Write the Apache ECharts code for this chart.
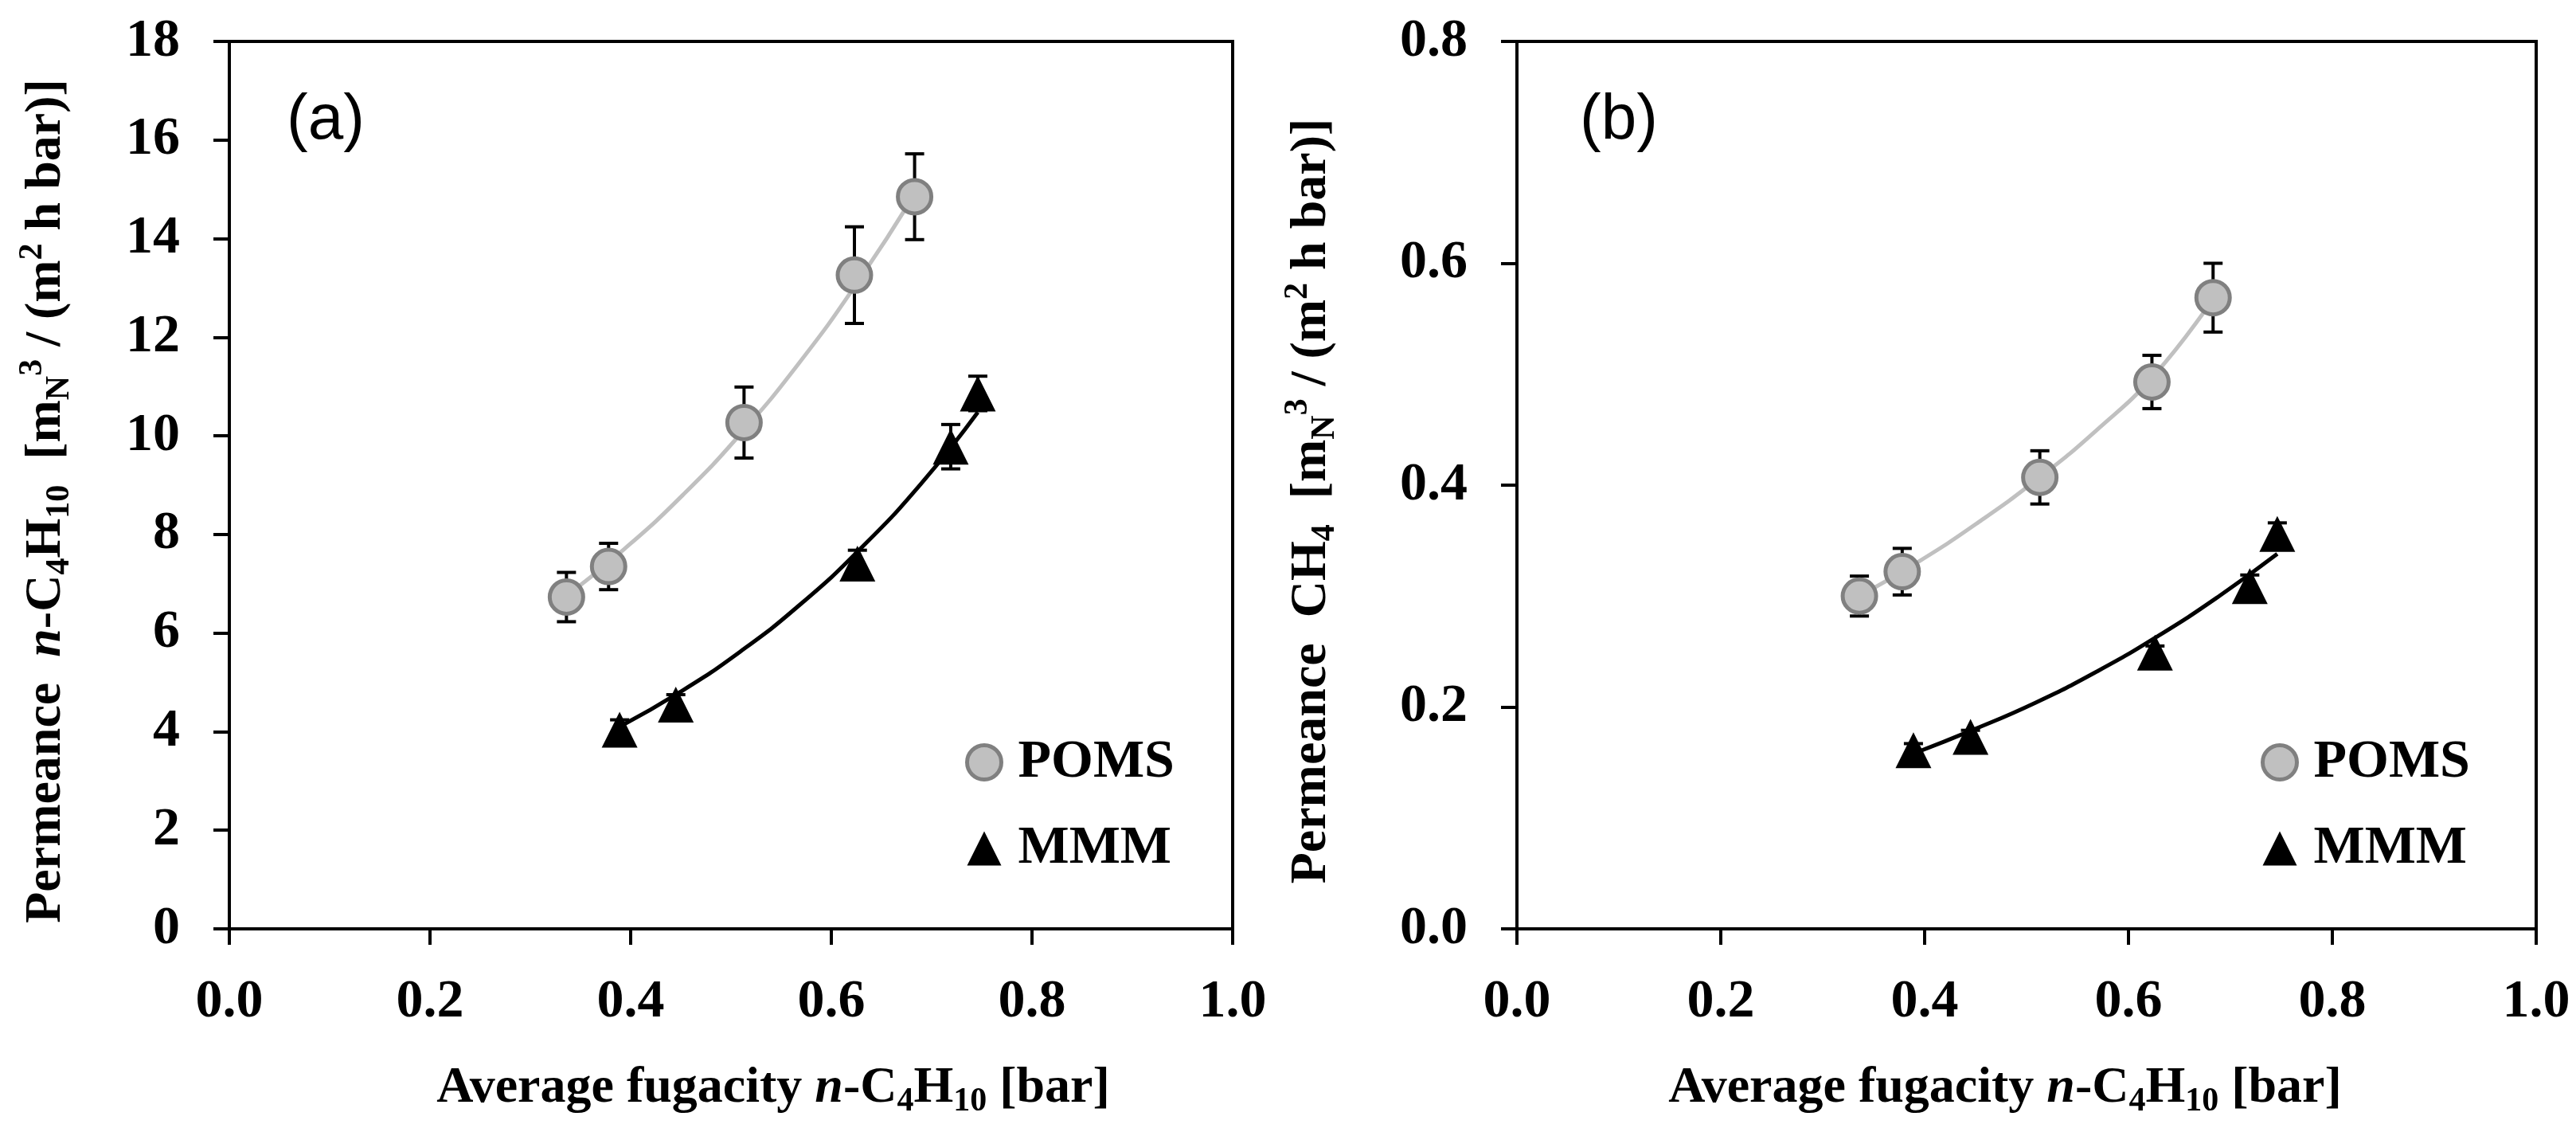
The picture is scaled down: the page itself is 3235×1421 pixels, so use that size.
<!DOCTYPE html>
<html>
<head>
<meta charset="utf-8">
<script src="https://cdn.jsdelivr.net/npm/echarts@6/dist/echarts.min.js"></script>
<style>
html, body { margin: 0; padding: 0; background: #fff; }
#main { width: 3235px; height: 1421px; }
</style>
</head>
<body>
<div id="main"></div>
<script>
// average fugacity of n-C4H10 [bar]
var fugPOMS = [0.336, 0.378, 0.513, 0.623, 0.683];
var fugMMM = [0.389, 0.445, 0.626, 0.719, 0.746];

// (a) n-C4H10 permeance
var butPOMS = [6.73, 7.35, 10.27, 13.26, 14.85];
var butPOMSErr = [0.5, 0.47, 0.72, 0.98, 0.87];
var butMMM = [4.04, 4.55, 7.41, 9.78, 10.86];
var butMMMErr = [0.2, 0.2, 0.27, 0.45, 0.35];

// (b) CH4 permeance
var ch4POMS = [0.300, 0.322, 0.407, 0.493, 0.569];
var ch4POMSErr = [0.018, 0.021, 0.024, 0.024, 0.031];
var ch4MMM = [0.161, 0.173, 0.249, 0.309, 0.356];
var ch4MMMErr = [0.006, 0.006, 0.006, 0.01, 0.01];

// trend curves
var trendPOMSx = [0.336, 0.394, 0.452, 0.51, 0.568, 0.626, 0.683];
var trendMMMx = [0.389, 0.449, 0.509, 0.569, 0.629, 0.689, 0.746];
var trendButPOMS = [6.75, 7.71, 8.8, 10.05, 11.48, 13.11, 14.9];
var trendButMMM = [4.1, 4.8, 5.62, 6.58, 7.71, 9.02, 10.48];
var trendCh4POMS = [0.300, 0.331, 0.366, 0.405, 0.449, 0.5, 0.568];
var trendCh4MMM = [0.158, 0.18, 0.204, 0.232, 0.264, 0.3, 0.338];

var xTicks = [0, 1, 0.2];
var yTicksA = [0, 18, 2];
var yTicksB = [0, 0.8, 0.2];

var serif = "'Liberation Serif', 'Times New Roman', serif";

function pairs(xs, ys) {
    return xs.map(function (x, i) { return [x, ys[i]]; });
}

var rich = {
    b: { fontFamily: serif, fontWeight: 'bold', fontSize: 64, lineHeight: 76, color: '#000' },
    bi: { fontFamily: serif, fontWeight: 'bold', fontStyle: 'italic', fontSize: 64, lineHeight: 76, color: '#000' },
    sub: { fontFamily: serif, fontWeight: 'bold', fontSize: 42, lineHeight: 42, verticalAlign: 'bottom', color: '#000' },
    sup: { fontFamily: serif, fontWeight: 'bold', fontSize: 42, lineHeight: 42, verticalAlign: 'top', color: '#000' }
};

var xName = '{b|Average fugacity }{bi|n}{b|-C}{sub|4}{b|H}{sub|10}{b| [bar]}';
var unit = '{b|  [m}{sub|N}{sup|3}{b| / (m}{sup|2}{b| h bar)]}';
var yNameA = '{b|Permeance  }{bi|n}{b|-C}{sub|4}{b|H}{sub|10}' + unit;
var yNameB = '{b|Permeance  CH}{sub|4}' + unit;

function xAx(gi, pad) {
    return {
        type: 'value', gridIndex: gi,
        min: xTicks[0], max: xTicks[1], interval: xTicks[2],
        axisLine: { show: true, onZero: false, lineStyle: { color: '#000', width: 4 } },
        axisTick: { show: true, length: 20, lineStyle: { color: '#000', width: 4 } },
        axisLabel: {
            formatter: function (v) { return v.toFixed(1); },
            fontFamily: serif, fontWeight: 'bold', fontSize: 68, color: '#000', margin: 58
        },
        splitLine: { show: false },
        name: xName, nameLocation: 'middle', nameGap: 162,
        nameTextStyle: { rich: rich, padding: pad }
    };
}

function yAx(gi, t, dec, name, gap) {
    return {
        type: 'value', gridIndex: gi,
        min: t[0], max: t[1], interval: t[2],
        axisLine: { show: true, onZero: false, lineStyle: { color: '#000', width: 4 } },
        axisTick: { show: true, length: 20, lineStyle: { color: '#000', width: 4 } },
        axisLabel: {
            formatter: function (v) { return v.toFixed(dec); },
            fontFamily: serif, fontWeight: 'bold', fontSize: 68, color: '#000', margin: 62
        },
        splitLine: { show: false },
        name: name, nameLocation: 'middle', nameRotate: 90, nameGap: gap,
        nameTextStyle: { rich: rich, padding: [0, 40, 0, 0] }
    };
}

function errSeries(name, xs, ys, es, gi) {
    return {
        type: 'custom', name: name, coordinateSystem: 'cartesian2d',
        xAxisIndex: gi, yAxisIndex: gi, z: 3, silent: true,
        data: xs.map(function (x, i) { return [x, ys[i], es[i]]; }),
        renderItem: function (params, api) {
            var x = api.value(0), y = api.value(1), e = api.value(2);
            var hi = api.coord([x, y + e]);
            var lo = api.coord([x, y - e]);
            var w = 12;
            var st = { stroke: '#000', lineWidth: 4 };
            return {
                type: 'group',
                children: [
                    { type: 'line', shape: { x1: hi[0], y1: hi[1], x2: lo[0], y2: lo[1] }, style: st },
                    { type: 'line', shape: { x1: hi[0] - w, y1: hi[1], x2: hi[0] + w, y2: hi[1] }, style: st },
                    { type: 'line', shape: { x1: lo[0] - w, y1: lo[1], x2: lo[0] + w, y2: lo[1] }, style: st }
                ]
            };
        }
    };
}

function trend(name, xs, ys, gi, color) {
    return {
        type: 'line', name: name, xAxisIndex: gi, yAxisIndex: gi, z: 2,
        data: pairs(xs, ys), smooth: true, showSymbol: false, silent: true,
        lineStyle: { color: color, width: 5 }
    };
}

function poms(xs, ys, gi) {
    return {
        type: 'scatter', name: 'POMS', xAxisIndex: gi, yAxisIndex: gi, z: 5,
        data: pairs(xs, ys), symbol: 'circle', symbolSize: 42,
        itemStyle: { color: '#c0c0c0', borderColor: '#808080', borderWidth: 5, opacity: 1 }
    };
}

function mmm(xs, ys, gi) {
    return {
        type: 'scatter', name: 'MMM', xAxisIndex: gi, yAxisIndex: gi, z: 5,
        data: pairs(xs, ys), symbol: 'triangle', symbolSize: 45,
        itemStyle: { color: '#000', opacity: 1 }
    };
}

function legendAt(left) {
    return {
        orient: 'vertical', left: left, top: 918,
        itemWidth: 43, itemHeight: 43, itemGap: 40,
        selectedMode: false,
        data: [
            { name: 'POMS', itemStyle: { borderWidth: 5, borderColor: '#808080' } },
            { name: 'MMM' }
        ],
        textStyle: { fontFamily: serif, fontWeight: 'bold', fontSize: 68, color: '#000', padding: [0, 0, 0, 16] }
    };
}

var myChart = echarts.init(document.getElementById('main'));

var option = {
    backgroundColor: '#fff',
    animation: false,
    grid: [
        { left: 288, top: 52, width: 1260, height: 1114, show: true, borderColor: '#000', borderWidth: 4,
          containLabel: false, outerBoundsMode: 'none' },
        { left: 1905, top: 52, width: 1280, height: 1114, show: true, borderColor: '#000', borderWidth: 4,
          containLabel: false, outerBoundsMode: 'none' }
    ],
    xAxis: [xAx(0, [0, 0, 0, 106]), xAx(1, [0, 54, 0, 0])],
    yAxis: [yAx(0, yTicksA, 0, yNameA, 192), yAx(1, yTicksB, 1, yNameB, 220)],
    legend: [legendAt(1207), legendAt(2834)],
    graphic: [
        { type: 'text', x: 360, y: 152, style: { text: '(a)', font: '80px "Liberation Sans", Arial, sans-serif', fill: '#000', textAlign: 'left', textVerticalAlign: 'middle' } },
        { type: 'text', x: 1984, y: 152, style: { text: '(b)', font: '80px "Liberation Sans", Arial, sans-serif', fill: '#000', textAlign: 'left', textVerticalAlign: 'middle' } }
    ],
    series: [
        trend('POMS fit a', trendPOMSx, trendButPOMS, 0, '#c0c0c0'),
        trend('MMM fit a', trendMMMx, trendButMMM, 0, '#000'),
        errSeries('POMS err a', fugPOMS, butPOMS, butPOMSErr, 0),
        errSeries('MMM err a', fugMMM, butMMM, butMMMErr, 0),
        poms(fugPOMS, butPOMS, 0),
        mmm(fugMMM, butMMM, 0),

        trend('POMS fit b', trendPOMSx, trendCh4POMS, 1, '#c0c0c0'),
        trend('MMM fit b', trendMMMx, trendCh4MMM, 1, '#000'),
        errSeries('POMS err b', fugPOMS, ch4POMS, ch4POMSErr, 1),
        errSeries('MMM err b', fugMMM, ch4MMM, ch4MMMErr, 1),
        poms(fugPOMS, ch4POMS, 1),
        mmm(fugMMM, ch4MMM, 1)
    ]
};

myChart.setOption(option);
</script>
</body>
</html>
